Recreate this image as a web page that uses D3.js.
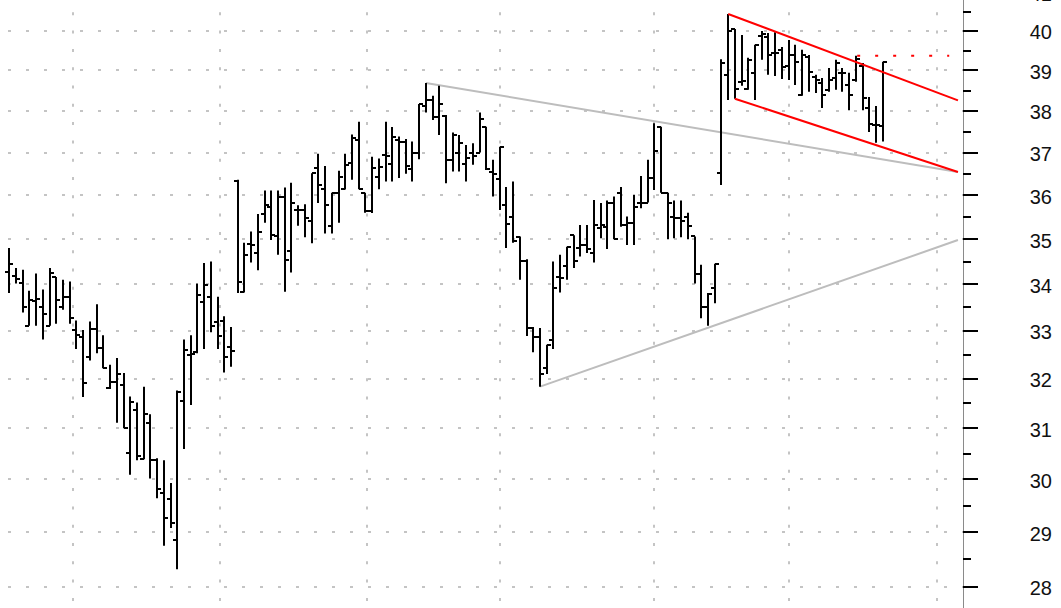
<!DOCTYPE html>
<html>
<head>
<meta charset="utf-8">
<script src="https://cdn.jsdelivr.net/npm/d3@7"></script>
<style>
  body { margin: 0; background: #fff; }
  svg { display: block; }
</style>
</head>
<body>
<svg id="chart"></svg>
<script>
// daily OHLC bars, one entry per trading day
const open = [
  34.28, 34.18, 34.02, 33.11, 33.63, 33.52, 33.11, 34.16, 33.52, 33.73,
  33.02, 32.88, 32.46, 33.03, 32.63, 31.81, 31.94, 31.88, 30.52, 31.37,
  30.39, 31.11, 30.37, 29.74, 29.62, 28.86, 31.55, 32.50, 32.56, 33.61,
  33.73, 33.19, 33.20, 32.67, 36.33, 33.84, 34.89, 34.70, 35.57, 35.74,
  35.08, 35.97, 34.74, 35.66, 35.66, 35.40, 36.63, 36.14, 35.30, 36.06,
  36.15, 36.75, 37.29, 36.06, 35.63, 36.42, 36.94, 36.73, 37.30, 37.26,
  36.61, 37.00, 38.12, 38.27, 37.85, 37.88, 36.83, 37.00, 36.73, 37.00,
  37.00, 37.62, 36.53, 36.37, 35.78, 35.50, 35.04, 34.52, 33.06, 32.88,
  32.22, 32.81, 34.17, 34.41, 35.09, 34.80, 34.87, 34.70, 35.25, 35.27,
  35.83, 36.06, 35.32, 35.36, 35.82, 35.83, 36.41, 37.62, 36.06, 35.50,
  35.48, 35.50, 35.06, 34.23, 33.52, 33.93, 36.51, 38.89, 40.05, 38.72,
  38.54, 38.94, 39.87, 39.85, 39.44, 39.52, 39.11, 39.39, 38.39, 39.34,
  38.84, 38.69, 38.52, 38.81, 38.94, 38.64, 38.76, 39.11, 38.07, 37.66,
  37.64
];
const high = [
  34.80, 34.36, 34.32, 33.86, 34.24, 33.89, 34.36, 34.16, 34.10, 34.06,
  33.22, 33.02, 33.20, 33.57, 32.91, 32.29, 32.43, 32.12, 31.64, 31.52,
  31.84, 31.28, 30.41, 30.37, 29.93, 31.76, 32.82, 32.91, 34.02, 34.47,
  34.50, 33.73, 33.31, 33.08, 36.36, 34.92, 35.17, 35.57, 36.11, 36.11,
  36.11, 36.18, 36.29, 35.77, 35.79, 36.51, 36.97, 36.68, 36.06, 36.57,
  36.97, 37.43, 37.74, 36.06, 36.90, 36.86, 37.74, 37.61, 37.38, 37.32,
  37.26, 38.17, 38.69, 38.37, 38.62, 37.90, 37.48, 37.42, 37.18, 37.22,
  37.96, 37.62, 36.83, 37.14, 36.19, 36.32, 35.06, 34.55, 33.08, 33.06,
  32.71, 34.50, 34.65, 34.83, 35.09, 35.32, 35.32, 35.89, 35.82, 35.88,
  35.97, 36.19, 35.51, 36.01, 36.45, 36.83, 37.70, 37.62, 36.06, 35.88,
  35.88, 35.60, 35.06, 34.43, 33.81, 34.45, 39.28, 40.44, 40.05, 39.90,
  39.32, 39.65, 40.00, 39.95, 39.97, 39.59, 39.77, 39.65, 39.52, 39.39,
  38.89, 38.81, 39.06, 39.27, 39.06, 38.94, 39.37, 39.19, 38.34, 38.12,
  39.22
];
const low = [
  33.81, 34.02, 33.39, 33.11, 33.11, 32.82, 33.11, 33.15, 33.45, 33.15,
  32.62, 31.63, 32.38, 32.53, 32.22, 31.79, 31.11, 31.00, 30.09, 30.37,
  30.39, 30.02, 29.64, 28.75, 29.08, 28.32, 30.59, 31.47, 32.53, 32.62,
  32.97, 32.62, 32.13, 32.25, 33.81, 33.82, 34.48, 34.31, 35.37, 34.98,
  34.65, 33.84, 34.26, 35.30, 35.04, 34.91, 35.82, 35.13, 35.13, 35.37,
  36.13, 36.36, 36.14, 35.60, 35.59, 36.14, 36.32, 36.32, 36.40, 36.50,
  36.32, 36.84, 37.96, 37.78, 37.42, 36.28, 36.55, 36.55, 36.32, 36.71,
  37.00, 36.59, 35.97, 35.66, 34.80, 34.92, 34.10, 32.89, 32.55, 31.84,
  32.10, 32.62, 33.82, 34.10, 34.36, 34.61, 34.69, 34.48, 35.02, 34.78,
  35.00, 35.28, 34.87, 34.87, 35.70, 35.83, 36.12, 36.06, 35.00, 35.02,
  35.04, 35.00, 34.02, 33.27, 33.11, 33.59, 36.24, 38.27, 38.30, 38.62,
  38.52, 38.27, 39.27, 38.89, 38.86, 38.79, 38.76, 38.64, 38.37, 38.47,
  38.44, 38.07, 38.47, 38.52, 38.47, 38.02, 38.72, 38.02, 37.49, 37.23,
  37.26
];
const close = [
  34.45, 34.11, 33.52, 33.65, 33.69, 33.36, 34.24, 33.66, 33.72, 33.27,
  32.91, 31.91, 33.03, 32.63, 32.22, 31.94, 32.10, 31.00, 31.52, 30.46,
  31.28, 30.37, 29.81, 29.27, 29.18, 31.74, 32.60, 32.51, 33.77, 33.98,
  33.11, 32.89, 32.46, 32.58, 34.06, 34.65, 34.87, 35.17, 35.78, 35.09,
  35.97, 34.53, 35.83, 35.66, 35.48, 36.51, 36.24, 35.78, 36.06, 36.43,
  36.70, 37.34, 36.15, 35.63, 36.64, 36.65, 36.92, 37.38, 37.25, 36.68,
  37.00, 38.17, 38.27, 37.85, 38.17, 36.83, 37.42, 37.22, 36.86, 36.92,
  37.80, 36.61, 36.49, 37.14, 35.35, 34.96, 34.52, 33.06, 32.88, 32.10,
  32.71, 33.92, 34.13, 34.83, 34.52, 34.87, 34.78, 35.32, 35.32, 35.83,
  35.00, 35.32, 35.36, 35.74, 35.83, 36.41, 37.04, 36.06, 35.83, 35.48,
  35.40, 35.30, 34.23, 33.52, 33.79, 34.45, 39.18, 40.00, 38.54, 38.74,
  39.27, 39.65, 39.92, 39.39, 39.44, 39.09, 39.39, 39.21, 39.39, 38.96,
  38.76, 38.39, 38.76, 39.19, 38.94, 38.39, 39.29, 38.32, 37.69, 37.66,
  39.22
];

// month boundaries (in bar index units)
const monthBreaks = [9.48, 31.36, 53.2, 73.04, 96.01, 116.06, 138.09];

// price axis
const majorTicks = [28, 29, 30, 31, 32, 33, 34, 35, 36, 37, 38, 39, 40, 41];
const minorTicks = [28.5, 29.5, 30.5, 31.5, 32.5, 33.5, 34.5, 35.5, 36.5, 37.5, 38.5, 39.5, 40.5];

// trend lines [index, price]
const grayLines = [
  [[62, 38.69], [141.2, 36.54]],
  [[79, 31.84], [141.2, 34.98]]
];
const redLines = [
  [[107, 40.44], [141.2, 38.26]],
  [[108, 38.30], [141.2, 36.54]]
];
const redDotted = [[126.2, 39.37], [139.9, 39.37]];

const width = 1061;
const height = 608;
const axisX = 963;

const bars = open.map((o, i) => ({ i, o, h: high[i], l: low[i], c: close[i] }));

const x = d3.scaleLinear()
    .domain([0, bars.length - 1])
    .range([9.3, 882.7]);

const y = d3.scaleLog()
    .domain([40, 28])
    .range([31, 587]);

const svg = d3.select("#chart")
    .attr("width", width)
    .attr("height", height);

// horizontal grid
svg.append("g")
  .selectAll("line")
  .data(majorTicks)
  .join("line")
    .attr("x1", 8)
    .attr("x2", axisX)
    .attr("y1", d => Math.round(y(d)))
    .attr("y2", d => Math.round(y(d)))
    .attr("stroke", "#c4c4c4")
    .attr("stroke-width", 2)
    .attr("stroke-dasharray", "3,15");

// vertical month grid
svg.append("g")
  .selectAll("line")
  .data(monthBreaks)
  .join("line")
    .attr("x1", d => Math.round(x(d)))
    .attr("x2", d => Math.round(x(d)))
    .attr("y1", -6)
    .attr("y2", height)
    .attr("stroke", "#c4c4c4")
    .attr("stroke-width", 2)
    .attr("stroke-dasharray", "3,15.3");

const line = d3.line()
    .x(d => x(d[0]))
    .y(d => y(d[1]));

svg.append("g")
  .selectAll("path")
  .data(grayLines)
  .join("path")
    .attr("d", line)
    .attr("fill", "none")
    .attr("stroke", "#bdbdbd")
    .attr("stroke-width", 2);

// OHLC bars
const g = svg.append("g").attr("stroke", "#000").attr("stroke-width", 2);

const bar = g.selectAll("g")
  .data(bars)
  .join("g")
    .attr("transform", d => `translate(${Math.round(x(d.i))},0)`);

bar.append("line")
    .attr("y1", d => y(d.h))
    .attr("y2", d => y(d.l));

bar.append("line")
    .attr("x1", -4)
    .attr("x2", 0)
    .attr("y1", d => Math.round(y(d.o)))
    .attr("y2", d => Math.round(y(d.o)));

bar.append("line")
    .attr("x1", 0)
    .attr("x2", 4)
    .attr("y1", d => Math.round(y(d.c)))
    .attr("y2", d => Math.round(y(d.c)));

// red channel
svg.append("g")
  .selectAll("path")
  .data(redLines)
  .join("path")
    .attr("d", line)
    .attr("fill", "none")
    .attr("stroke", "#ff0000")
    .attr("stroke-width", 2);

svg.append("path")
    .attr("d", line(redDotted))
    .attr("fill", "none")
    .attr("stroke", "#ff0000")
    .attr("stroke-width", 2)
    .attr("stroke-dasharray", "3,15");

// right price axis
const axis = svg.append("g");

axis.append("line")
    .attr("x1", axisX + 0.5)
    .attr("x2", axisX + 0.5)
    .attr("y1", 0)
    .attr("y2", height)
    .attr("stroke", "#8a8a8a")
    .attr("stroke-width", 1);

axis.selectAll(".major")
  .data(majorTicks)
  .join("line")
    .attr("class", "major")
    .attr("x1", axisX)
    .attr("x2", axisX + 15)
    .attr("y1", d => Math.round(y(d)))
    .attr("y2", d => Math.round(y(d)))
    .attr("stroke", "#000")
    .attr("stroke-width", 2);

axis.selectAll(".minor")
  .data(minorTicks)
  .join("line")
    .attr("class", "minor")
    .attr("x1", axisX)
    .attr("x2", axisX + 8)
    .attr("y1", d => Math.round(y(d)))
    .attr("y2", d => Math.round(y(d)))
    .attr("stroke", "#000")
    .attr("stroke-width", 2);

axis.selectAll("text")
  .data(majorTicks)
  .join("text")
    .attr("x", 1052)
    .attr("y", d => y(d))
    .attr("dy", "0.42em")
    .attr("text-anchor", "end")
    .style("font-family", "'Liberation Sans', Arial, sans-serif")
    .style("font-size", "20px")
    .style("fill", "#111")
    .text(d => d);
</script>
</body>
</html>
